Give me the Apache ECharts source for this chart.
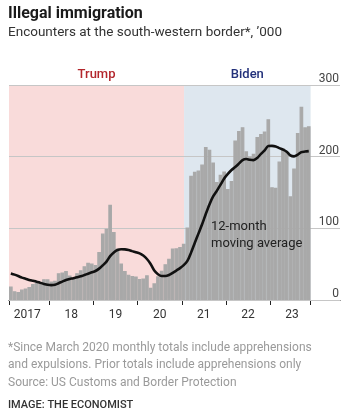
<!DOCTYPE html>
<html>
<head>
<meta charset="utf-8">
<script src="https://cdn.jsdelivr.net/npm/echarts@6/dist/echarts.min.js"></script>
<style>
html,body{margin:0;padding:0;background:#fff;}
#c{width:361px;height:420px;}
</style>
</head>
<body>
<div id="c"></div>
<script>
// Monthly encounters, '000 (Feb 2017 - Nov 2023)
const enc2017 = [18.8, 12.2, 11.1, 14.5, 16.1, 18.2, 22.3, 25.5, 25.5, 29.1, 28.9]; // Feb-Dec
const enc2018 = [25.9, 26.7, 37.4, 38.3, 40.3, 34.1, 31.3, 37.5, 41.5, 47.0, 51.9, 50.8];
const enc2019 = [48.7, 66.9, 92.8, 99.3, 132.9, 94.9, 71.9, 51.0, 40.5, 35.4, 33.5, 32.9];
const enc2020 = [29.2, 30.1, 34.5, 17.1, 23.2, 33.0, 40.9, 50.0, 57.7, 71.9, 72.1, 73.9];
const enc2021 = [78.4, 101.1, 173.3, 178.8, 180.6, 189.0, 213.6, 209.8, 192.0, 164.8, 174.8, 179.3];
const enc2022 = [154.9, 166.0, 222.6, 235.8, 241.1, 207.4, 200.2, 204.0, 227.5, 231.5, 235.2, 252.3];
const enc2023 = [157.4, 156.6, 193.2, 211.9, 206.7, 144.6, 183.5, 232.9, 269.7, 240.9, 242.4]; // Jan-Nov

// 12-month moving average, '000
const ma2017 = [37.0, 35.4, 33.4, 31.2, 29.7, 28.0, 26.8, 25.6, 23.9, 22.4, 21.2];
const ma2018 = [20.7, 21.3, 23.4, 25.7, 27.9, 29.4, 30.4, 31.7, 33.0, 34.8, 36.7, 38.6];
const ma2019 = [40.5, 43.8, 48.4, 53.5, 61.2, 66.3, 69.7, 70.8, 70.7, 69.8, 68.2, 66.7];
const ma2020 = [65.1, 62.0, 57.2, 50.3, 41.2, 36.0, 33.4, 33.4, 34.8, 37.8, 41.1, 44.5];
const ma2021 = [48.6, 54.5, 66.1, 79.5, 92.6, 105.6, 120.0, 133.4, 144.5, 152.3, 160.8, 169.6];
const ma2022 = [176.0, 181.4, 185.5, 190.3, 195.3, 196.8, 195.7, 195.2, 198.2, 203.8, 208.8, 214.9];
const ma2023 = [215.1, 214.3, 211.9, 209.9, 207.0, 201.8, 200.4, 202.8, 206.3, 207.1, 207.7];

const years = ['2017', '2018', '2019', '2020', '2021', '2022', '2023'];
const yearLabels = ['2017', '18', '19', '20', '21', '22', '23'];
const yTicks = [0, 100, 200, 300];
const presidents = ['Trump', 'Biden'];
const trumpEnd = 47.6; // months from Feb 2017 to 20 Jan 2021

const encounters = [].concat(enc2017, enc2018, enc2019, enc2020, enc2021, enc2022, enc2023);
const movingAvg = [].concat(ma2017, ma2018, ma2019, ma2020, ma2021, ma2022, ma2023);
const months = [];
years.forEach(function (y) {
  for (let m = 1; m <= 12; m++) {
    if (y === '2017' && m < 2) continue;
    if (y === '2023' && m > 11) continue;
    months.push(y + '-' + (m < 10 ? '0' + m : m));
  }
});
const nMonths = months.length;

const FONT = 'Roboto';
const BAR = '#a9a9a9';
const chart = echarts.init(document.getElementById('c'), null, {renderer: 'canvas'});

const option = {
  animation: false,
  backgroundColor: '#ffffff',
  grid: [
    {left: 9, right: 21, top: 85, bottom: 120},
    {left: 9, right: 50.4, top: 85, bottom: 120}
  ],
  xAxis: [
    {gridIndex: 0, type: 'value', min: 0, max: 1,
      axisLine: {show: true, lineStyle: {color: '#222', width: 1.2}},
      axisTick: {show: false}, axisLabel: {show: false}, splitLine: {show: false}},
    {gridIndex: 1, type: 'category', data: months, boundaryGap: true,
      axisLine: {show: false},
      axisTick: {show: true, length: 5, lineStyle: {color: '#222', width: 1},
        interval: function (i, v) { return i === 0 || v.slice(5) === '01'; }},
      axisLabel: {show: true, margin: 9, color: '#333', fontFamily: FONT, fontSize: 12,
        padding: [0, 4, 0, 0],
        interval: function (i, v) { return v.slice(5) === '07'; },
        formatter: function (v) { return yearLabels[years.indexOf(v.slice(0, 4))]; }},
      splitLine: {show: false}},
    {gridIndex: 1, type: 'value', min: 0, max: nMonths, show: false}
  ],
  yAxis: [
    {gridIndex: 0, type: 'value', position: 'right', min: yTicks[0], max: yTicks[yTicks.length - 1], interval: 100, z: 1,
      axisLine: {show: false}, axisTick: {show: false},
      axisLabel: {inside: true, margin: 1, verticalAlign: 'bottom', align: 'right',
        color: '#444', fontFamily: FONT, fontSize: 12, padding: [0, 0, 0, 0]},
      splitLine: {show: true, lineStyle: {color: '#c6c6c6', width: 1}}},
    {gridIndex: 1, type: 'value', min: 0, max: 300, show: false}
  ],
  series: [
    {type: 'line', xAxisIndex: 2, yAxisIndex: 1, data: [], z: 0, silent: true,
      markArea: {silent: true, z: 0,
        label: {show: true, position: 'top', distance: 4, fontFamily: FONT, fontSize: 13, fontWeight: 500},
        data: [
          [{name: presidents[0], xAxis: 0, itemStyle: {color: '#f9dbda'}, label: {color: '#b3262c'}}, {xAxis: trumpEnd}],
          [{name: presidents[1], xAxis: trumpEnd, itemStyle: {color: '#dee7ef'}, label: {color: '#22307a'}}, {xAxis: nMonths}]
        ]}},
    {type: 'bar', xAxisIndex: 1, yAxisIndex: 1, data: encounters, barCategoryGap: '0%', barWidth: '100%', z: 3,
      itemStyle: {color: BAR, borderColor: BAR, borderWidth: 1.2}},
    {type: 'line', xAxisIndex: 1, yAxisIndex: 1, data: movingAvg, z: 4, smooth: 0.3,
      showSymbol: false, symbol: 'none', lineStyle: {color: '#111', width: 2.6}}
  ],
  graphic: [
    {type: 'text', z: 20, left: 8, top: 6, style: {text: 'Illegal immigration', font: 'bold 16px ' + FONT, fill: '#1a1a1a'}},
    {type: 'text', z: 20, left: 8, top: 26, style: {text: "Encounters at the south-western border*, \u2019000", font: '13.5px ' + FONT, fill: '#333'}},
    {type: 'text', z: 20, left: 211, top: 218, style: {text: '12-month\nmoving average', font: '13px ' + FONT, fill: '#222', lineHeight: 17}},
    {type: 'text', z: 20, left: 8, top: 339, style: {text: '*Since March 2020 monthly totals include apprehensions\nand expulsions. Prior totals include apprehensions only\nSource: US Customs and Border Protection', font: '12px ' + FONT, fill: '#9a9a9a', lineHeight: 17.5}},
    {type: 'text', z: 20, left: 8, top: 400, style: {text: 'IMAGE: THE ECONOMIST', font: '500 11px ' + FONT, fill: '#333'}}
  ]
};
chart.setOption(option);
</script>
</body>
</html>
